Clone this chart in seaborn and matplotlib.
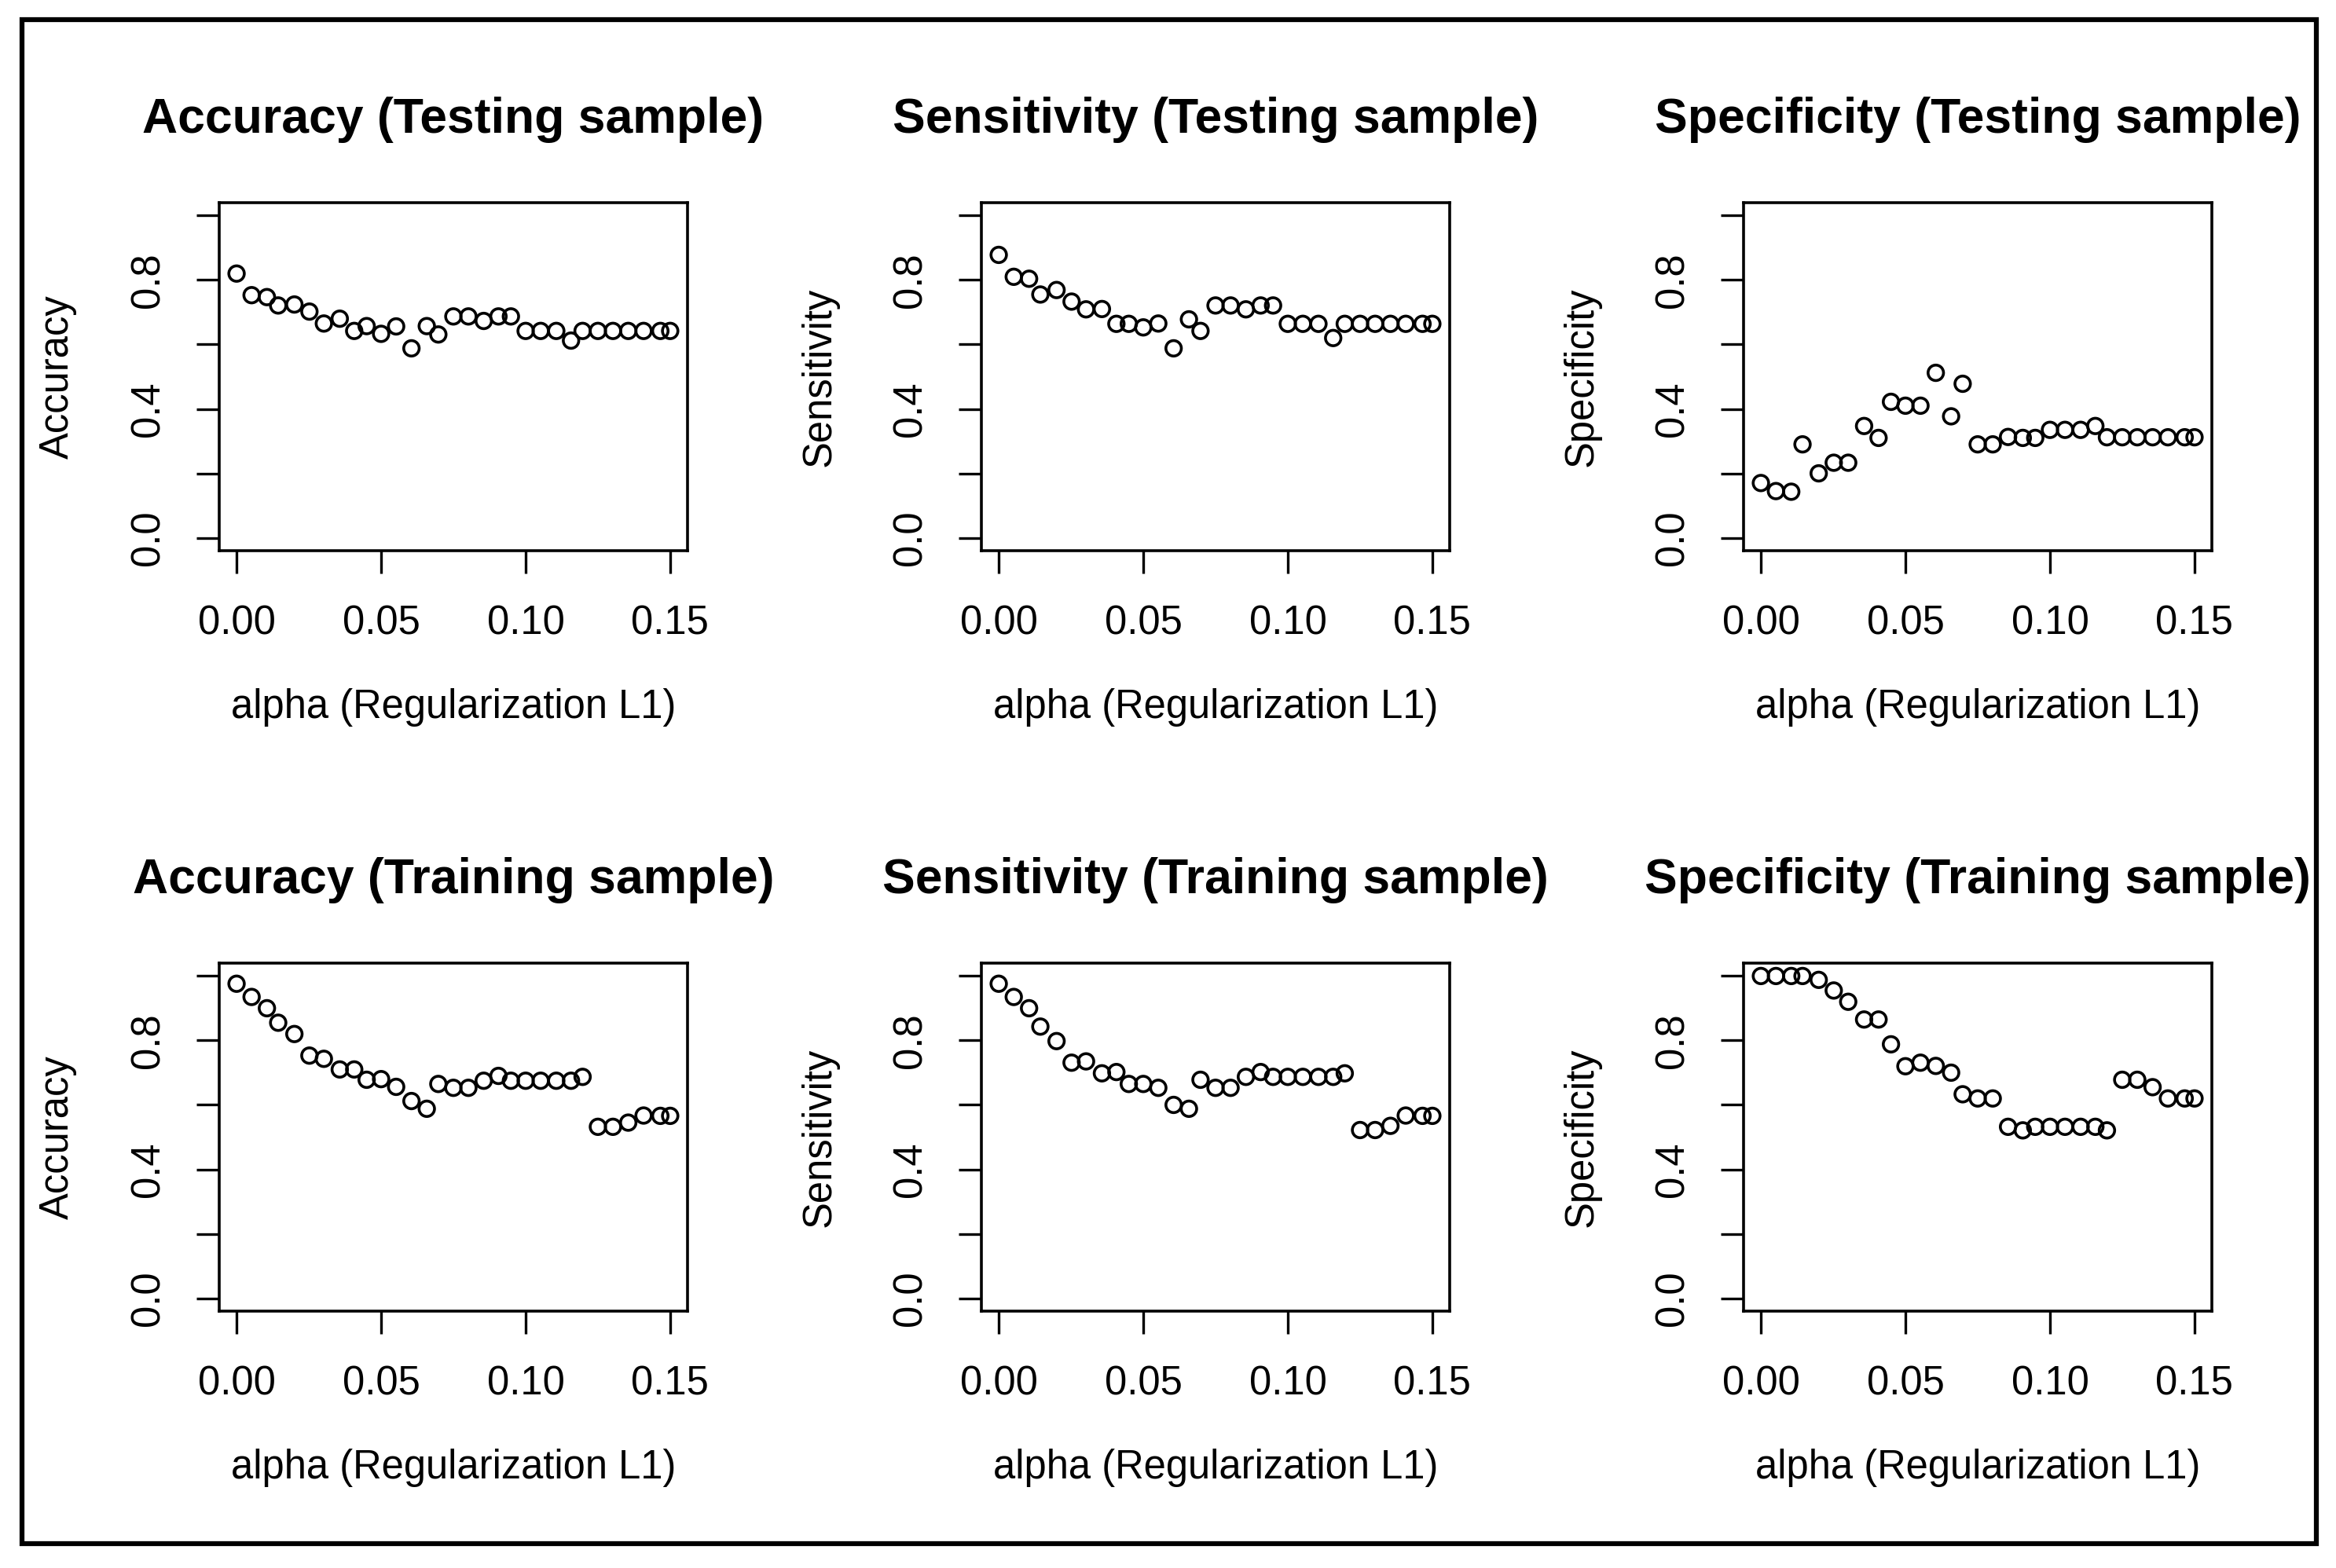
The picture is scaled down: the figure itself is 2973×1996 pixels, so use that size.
import numpy as np
import pandas as pd
import matplotlib
matplotlib.use('Agg')
import matplotlib.pyplot as plt
import seaborn as sns
from matplotlib.patches import Rectangle

# alpha grid
alpha = [0.0, 0.0052, 0.0105, 0.0144, 0.0200, 0.0252, 0.0302, 0.0357, 0.0407, 0.0450,
         0.0500, 0.0552, 0.0605, 0.0658, 0.0698, 0.0750, 0.0802, 0.0855, 0.0906, 0.0949,
         0.1000, 0.1052, 0.1106, 0.1157, 0.1197, 0.1250, 0.1302, 0.1355, 0.1408, 0.1466, 0.1500]

# testing sample
acc_test = [0.820, 0.753, 0.747, 0.721, 0.724, 0.702, 0.665, 0.680, 0.642, 0.657,
            0.633, 0.656, 0.588, 0.657, 0.631, 0.687, 0.687, 0.673, 0.687, 0.687,
            0.642, 0.642, 0.642, 0.612, 0.642, 0.642, 0.642, 0.642, 0.642, 0.642, 0.642]
sens_test = [0.878, 0.810, 0.804, 0.755, 0.769, 0.733, 0.709, 0.710, 0.664, 0.664,
             0.653, 0.665, 0.588, 0.678, 0.642, 0.721, 0.721, 0.709, 0.721, 0.721,
             0.664, 0.664, 0.664, 0.620, 0.664, 0.664, 0.664, 0.664, 0.664, 0.664, 0.664]
spec_test = [0.170, 0.145, 0.143, 0.290, 0.200, 0.233, 0.233, 0.347, 0.310, 0.422,
             0.410, 0.410, 0.512, 0.377, 0.478, 0.290, 0.290, 0.313, 0.310, 0.310,
             0.335, 0.335, 0.335, 0.347, 0.312, 0.312, 0.312, 0.312, 0.312, 0.312, 0.312]

# training sample
acc_train = [0.976, 0.935, 0.900, 0.855, 0.820, 0.753, 0.743, 0.710, 0.710, 0.678,
             0.680, 0.656, 0.612, 0.588, 0.665, 0.653, 0.653, 0.675, 0.690, 0.675,
             0.675, 0.675, 0.675, 0.675, 0.687, 0.532, 0.532, 0.545, 0.567, 0.566, 0.566]
sens_train = [0.976, 0.935, 0.900, 0.843, 0.798, 0.731, 0.735, 0.698, 0.702, 0.665,
              0.665, 0.653, 0.600, 0.588, 0.678, 0.653, 0.653, 0.687, 0.702, 0.687,
              0.687, 0.687, 0.687, 0.687, 0.698, 0.522, 0.522, 0.535, 0.567, 0.566, 0.566]
spec_train = [1.000, 1.000, 1.000, 1.000, 0.988, 0.955, 0.920, 0.865, 0.865, 0.788,
              0.720, 0.731, 0.721, 0.700, 0.633, 0.620, 0.620, 0.532, 0.521, 0.532,
              0.532, 0.532, 0.532, 0.532, 0.521, 0.678, 0.678, 0.655, 0.620, 0.620, 0.620]

metrics = ['Accuracy', 'Sensitivity', 'Specificity']
samples = ['Testing', 'Training']
series = {('Accuracy', 'Testing'): acc_test, ('Sensitivity', 'Testing'): sens_test,
          ('Specificity', 'Testing'): spec_test, ('Accuracy', 'Training'): acc_train,
          ('Sensitivity', 'Training'): sens_train, ('Specificity', 'Training'): spec_train}

y_ticks = [0.0, 0.2, 0.4, 0.6, 0.8, 1.0]
y_ticklabels = ['0.0', '', '0.4', '', '0.8', '']
x_ticks = [0.00, 0.05, 0.10, 0.15]
x_ticklabels = ['0.00', '0.05', '0.10', '0.15']

frames = []
for (m, s), vals in series.items():
    frames.append(pd.DataFrame({'alpha': alpha, 'value': vals, 'metric': m, 'sample': s}))
df = pd.concat(frames, ignore_index=True)

sns.set_theme(style='white')
plt.rcParams['font.family'] = ['Liberation Sans', 'DejaVu Sans']

W, H = 2973, 1996
fig = plt.figure(figsize=(W / 100, H / 100), dpi=100)
fig.patch.set_facecolor('white')

col_left = [279, 1249, 2219]
row_top = [258, 1226]
ax_w, ax_h = 596, 443

for r, samp in enumerate(samples):
    for c, met in enumerate(metrics):
        ax = fig.add_axes([col_left[c] / W, 1 - (row_top[r] + ax_h) / H, ax_w / W, ax_h / H])
        sub = df[(df['metric'] == met) & (df['sample'] == samp)]
        sns.scatterplot(data=sub, x='alpha', y='value', ax=ax, marker='o', s=200,
                        color='black', edgecolor='black', linewidth=2.6, legend=False)
        ax.collections[-1].set_facecolor('none')

        ax.set_xlim(-0.006, 0.156)
        ax.set_ylim(-0.04, 1.04)
        ax.set_xticks(x_ticks)
        ax.set_xticklabels(x_ticklabels)
        ax.set_yticks(y_ticks)
        ax.set_yticklabels(y_ticklabels)
        ax.tick_params(axis='both', direction='out', length=21, width=2.4,
                       colors='black', labelsize=36.5, bottom=True, left=True)
        ax.tick_params(axis='x', pad=28)
        ax.tick_params(axis='y', pad=26, labelrotation=90)
        for lab in ax.get_yticklabels():
            lab.set_va('center')
        for sp in ax.spines.values():
            sp.set_visible(True)
            sp.set_color('black')
            sp.set_linewidth(2.6)

        ax.set_xlabel('alpha (Regularization L1)', fontsize=36.5, color='black')
        ax.xaxis.label.set_va('center')
        ax.xaxis.set_label_coords(0.5, -0.45)
        ax.set_ylabel(met, fontsize=36.5, color='black')
        ax.yaxis.label.set_va('center')
        ax.yaxis.set_label_coords(-0.345, 0.5)

        ax.set_title(f'{met} ({samp} sample)', fontsize=45, fontweight='bold',
                     color='black', y=1 + 105 / ax_h, pad=0, va='center')

# outer frame of the screenshot
fig.add_artist(Rectangle((28 / W, 1 - 1965 / H), (2948 - 28) / W, (1965 - 24.5) / H,
                         transform=fig.transFigure, fill=False, edgecolor='black',
                         linewidth=4.5, zorder=20))

fig.savefig('out.png', dpi=100, facecolor='white')
